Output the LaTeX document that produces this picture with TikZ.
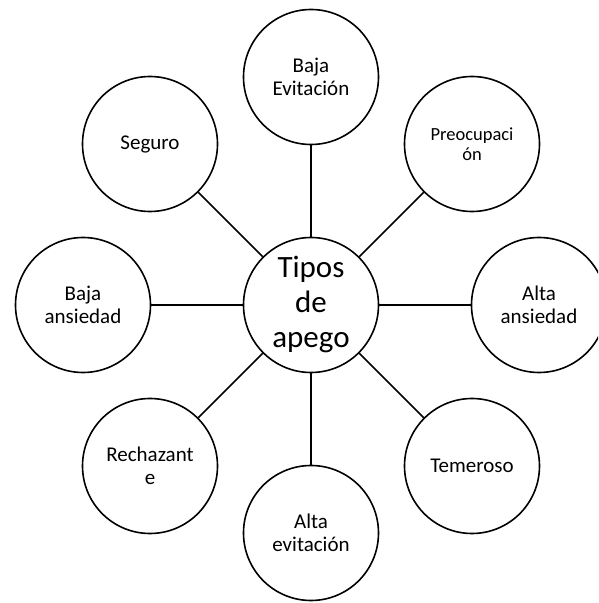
\documentclass[tikz,border=0pt]{standalone}
\usepackage{fontspec}
\setmainfont{Carlito}

\begin{document}
\begin{tikzpicture}[every node/.style={circle,draw,line width=1.6pt,fill=white,minimum size=135pt,inner sep=0pt,align=center,font=\fontsize{21pt}{23pt}\selectfont}]
    \useasboundingbox (0pt,0pt) rectangle (598pt,603pt);
    \clip (0pt,0pt) rectangle (598pt,603pt);
    \coordinate (C) at (311pt, 298pt);
    \coordinate (N) at (311pt, 526pt);
    \coordinate (S) at (311pt, 70pt);
    \coordinate (W) at (83pt, 298pt);
    \coordinate (E) at (539pt, 298pt);
    \coordinate (NW) at (150pt, 459pt);
    \coordinate (NE) at (472pt, 459pt);
    \coordinate (SW) at (150pt, 137pt);
    \coordinate (SE) at (472pt, 137pt);
    \node (tipos) at (C) [font=\fontsize{31pt}{35pt}\selectfont] {Tipos\\de\\apego};
    \node (bajaev) at (N) {Baja\\Evitación};
    \node (altaev) at (S) {Alta\\evitación};
    \node (bajaan) at (W) {Baja\\ansiedad};
    \node (altaan) at (E) {Alta\\ansiedad};
    \node (seguro) at (NW) {Seguro};
    \node (preoc) at (NE) [font=\fontsize{18.5pt}{20.5pt}\selectfont] {Preocupaci\\ón};
    \node (rechaz) at (SW) {Rechazant\\e};
    \node (temer) at (SE) {Temeroso};
    \draw[-,line width=1.6pt] (tipos) -- (bajaev);
    \draw[-,line width=1.6pt] (tipos) -- (altaev);
    \draw[-,line width=1.6pt] (tipos) -- (bajaan);
    \draw[-,line width=1.6pt] (tipos) -- (altaan);
    \draw[-,line width=1.6pt] (tipos) -- (seguro);
    \draw[-,line width=1.6pt] (tipos) -- (preoc);
    \draw[-,line width=1.6pt] (tipos) -- (rechaz);
    \draw[-,line width=1.6pt] (tipos) -- (temer);
\end{tikzpicture}
\end{document}
